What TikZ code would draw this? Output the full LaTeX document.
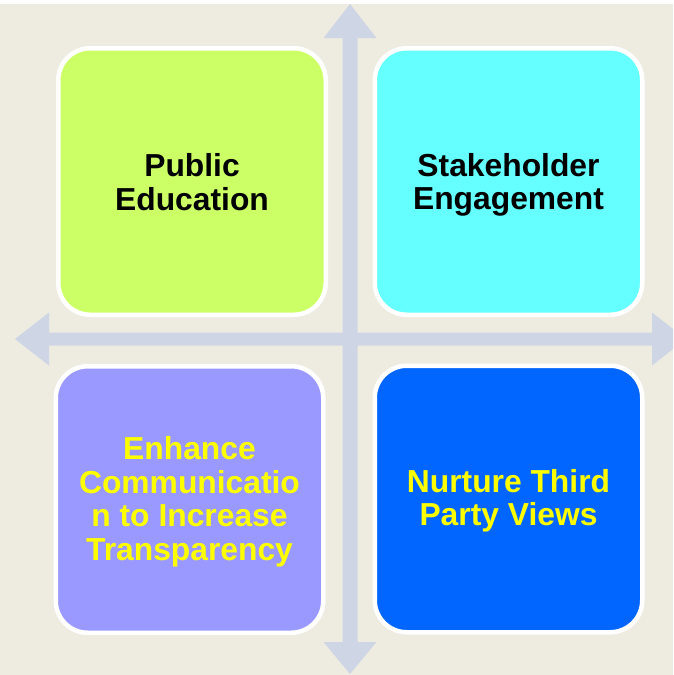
\documentclass[tikz,border=0pt]{standalone}
\usepackage{fontspec}
\setmainfont{Liberation Sans}
\definecolor{bgbeige}{HTML}{EEEBE0}
\definecolor{axiscol}{HTML}{CED6E6}
\definecolor{tlfill}{HTML}{CCFF66}
\definecolor{trfill}{HTML}{66FFFF}
\definecolor{blfill}{HTML}{9999FF}
\definecolor{brfill}{HTML}{0066FF}
\definecolor{labyellow}{HTML}{FFFF00}
\tikzset{
  quad/.style={draw=white, line width=4.5pt, rounded corners=32pt,
    minimum width=267.5pt, minimum height=266.5pt, inner sep=0pt},
  quadtext/.style={align=center, inner sep=0pt,
    font=\fontsize{31.8}{33.5}\selectfont\bfseries},
  darktext/.style={quadtext, text=black},
  lighttext/.style={quadtext, text=labyellow},
}
\begin{document}
\begin{tikzpicture}[x=1pt,y=-1pt]
  \useasboundingbox (0,0) rectangle (673,675);
  \clip (0,0) rectangle (673,675);
  % page ground
  \fill[white] (0,0) rectangle (673,675);
  \fill[bgbeige] (0,4) rectangle (673,675);
  % vertical axis, two heads
  \fill[axiscol] (350,4) -- (376.5,38) -- (357.5,38) -- (357.5,642)
    -- (376.5,642) -- (350,674) -- (323.5,642) -- (342.5,642)
    -- (342.5,38) -- (323.5,38) -- cycle;
  % horizontal axis, two heads
  \fill[axiscol] (15,339) -- (49,312.5) -- (49,332.5) -- (652,332.5)
    -- (652,312.5) -- (686,339) -- (652,365.5) -- (652,345.5)
    -- (49,345.5) -- (49,365.5) -- cycle;
  % quadrants
  \node[quad, fill=tlfill] (pub) at (192,181.5) {};
  \node[quad, fill=trfill] (stake) at (508.5,181.5) {};
  \node[quad, fill=blfill] (comm) at (189.5,499.5) {};
  \node[quad, fill=brfill] (third) at (508.5,499) {};
  % quadrant captions
  \node[darktext] (pubtxt) at ([yshift=-0.5pt]pub.center) {Public\\Education};
  \node[darktext] (staketxt) at ([yshift=-3.5pt]stake.center) {Stakeholder\\Engagement};
  \node[lighttext] (commtxt) at ([yshift=-2.5pt]comm.center)
    {Enhance\\Communicatio\\n to Increase\\Transparency};
  \node[lighttext] (thirdtxt) at ([yshift=-2pt]third.center)
    {Nurture Third\\Party Views};
\end{tikzpicture}
\end{document}
